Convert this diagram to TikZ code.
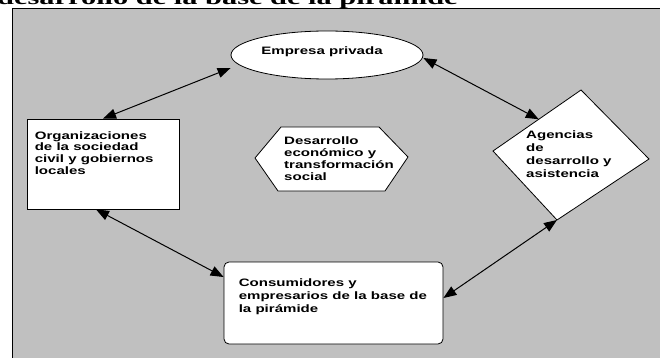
\documentclass[tikz,border=0pt]{standalone}
\usepackage{fontspec}
\usetikzlibrary{arrows.meta,positioning,calc,shapes.geometric}
\newfontfamily\boxfont[FakeStretch=1.4]{Liberation Sans}
\newfontfamily\titlefont[FakeStretch=1.52]{Liberation Serif}
\definecolor{panelgray}{RGB}{192,192,192}
\tikzset{
  boxtext/.style={anchor=north west,inner sep=0pt,align=left,font=\boxfont\bfseries\fontsize{10.75}{11.7}\selectfont},
  shapeline/.style={draw=black,fill=white,line width=0.8pt,inner sep=0pt},
  link/.style={{Triangle[length=13pt,width=10pt]}-{Triangle[length=13pt,width=10pt]},line width=1pt}
}
\begin{document}
\begin{tikzpicture}[x=1pt,y=-1pt]
\useasboundingbox (0,0) rectangle (660,358);
\fill[white] (0,0) rectangle (660,358);
\draw[fill=panelgray,line width=0.8pt] (12,8.5) rectangle (670,370);
\node[anchor=base west,inner sep=0pt,font=\titlefont\bfseries\fontsize{20}{22}\selectfont] (title) at (-3,5) {desarrollo de la base de la pirámide};

\node[shapeline,ellipse,minimum width=192pt,minimum height=48pt] (emp) at (327,55) {};
\node[boxtext,anchor=center] (emplbl) at (322,52) {Empresa privada};

\node[shapeline,minimum width=152pt,minimum height=90pt] (org) at (103,164) {};
\node[boxtext,below right=12.5pt and 8pt of org.north west] (orglbl) {Organizaciones\\de la sociedad\\civil y gobiernos\\locales};

\draw[shapeline] (255,158) -- (281,127) -- (379,127) -- (408,157) -- (385,191) -- (278,191) -- cycle;
\node[boxtext] (dev) at (284,137) {Desarrollo\\económico y\\transformación\\social};

\coordinate (agL) at (493,151);
\coordinate (agT) at (581,90);
\coordinate (agR) at (649,159);
\coordinate (agB) at (557,220);
\draw[shapeline] (agL) -- (agT) -- (agR) -- (agB) -- cycle;
\node[boxtext,font=\boxfont\bfseries\fontsize{10.75}{12.7}\selectfont] (ag) at (526,131) {Agencias\\de\\desarrollo y\\asistencia};

\node[shapeline,rounded corners=5pt,minimum width=219pt,minimum height=82pt] (cons) at (333.5,303) {};
\node[boxtext,font=\boxfont\bfseries\fontsize{10.75}{13}\selectfont,below right=16.5pt and 15pt of cons.north west] (conslbl) {Consumidores y\\empresarios de la base de\\la pirámide};

\draw[link] (org.north) -- ([yshift=-13pt]emp.west);
\draw[link] ([yshift=-3pt]emp.east) -- ($(agL)!0.52!(agT)$);
\draw[link] ([xshift=-7pt]org.south) -- ([yshift=26pt]cons.west);
\draw[link] ([yshift=5pt]cons.east) -- (agB);
\end{tikzpicture}
\end{document}
